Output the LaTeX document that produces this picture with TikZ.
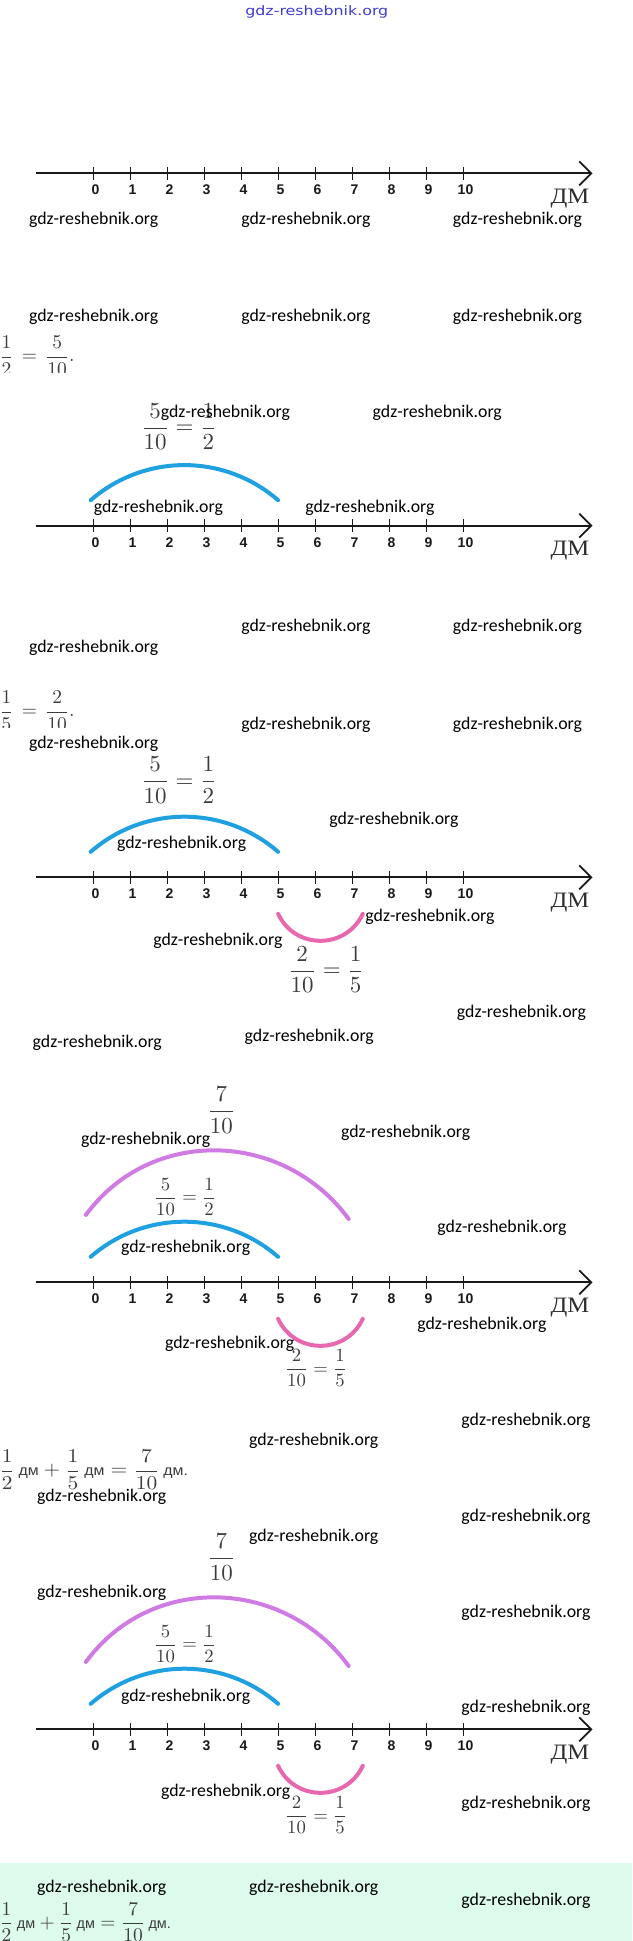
\documentclass[tikz,border=0pt]{standalone}
\usepackage{fontspec}
\usetikzlibrary{arrows.meta}
\newfontfamily\wmfont{Carlito}
\newfontfamily\lsans{Liberation Sans}
\newfontfamily\lserif{Liberation Serif}
\newfontfamily\dvsans{DejaVu Sans}
\definecolor{arcblue}{RGB}{30,160,225}
\definecolor{arcpink}{RGB}{232,104,176}
\definecolor{arcviolet}{RGB}{208,122,228}
\definecolor{eqgray}{RGB}{60,60,60}
\definecolor{mint}{RGB}{221,251,236}
\definecolor{wmblue}{RGB}{60,60,205}
\definecolor{axiscol}{RGB}{25,25,25}
\definecolor{dmcol}{RGB}{45,45,45}
\newcommand{\dmu}{\hbox{\lsans\fontsize{7.4}{9}\selectfont дм}}
\newcommand{\dmp}{\hbox{\lsans\fontsize{7.4}{9}\selectfont дм.}}
\newcommand{\numline}[2]{%
  \coordinate (#2-s) at (36.3,#1);
  \coordinate (#2-e) at (592.5,#1);
  \draw[axisline] (#2-s) -- (#2-e);
  \foreach \i in {0,...,10}{
    \coordinate (#2-t\i) at ({93.5+37*\i},#1);
    \draw[tickmark] ([yshift=-6.5pt]#2-t\i) -- ([yshift=6.5pt]#2-t\i);
    \node[digit] (#2-l\i) at ({95.5+37*\i},{#1+21.5}) {\i};
  }
  \node[dmlabel] (#2-dm) at (570,{#1+25}) {\scalebox{1.12}[1]{ДМ}};
}
\newcommand{\bluearc}[2]{%
  \coordinate (#2a) at (90.7,{#1-25.5});
  \coordinate (#2b) at (278.1,{#1-25.5});
  \draw[arcb] (#2a) .. controls (144.5,{#1-72.3}) and (224.3,{#1-72.3}) .. (#2b);
}
\newcommand{\pinkarc}[2]{%
  \coordinate (#2a) at (278.1,{#1+36.5});
  \coordinate (#2b) at (362.8,{#1+36.5});
  \draw[arcp] (#2a) .. controls (294.9,{#1+72.5}) and (346,{#1+72.5}) .. (#2b);
}
\newcommand{\violetarc}[2]{%
  \coordinate (#2a) at (85.9,{#1-67.4});
  \coordinate (#2b) at (348.7,{#1-63.3});
  \draw[arcv] (#2a) .. controls (150.9,{#1-156.2}) and (283.7,{#1-152.1}) .. (#2b);
}
\newcommand{\bigf}[1]{\scalebox{2.3}{$\displaystyle #1$}}
\newcommand{\smallf}[1]{\scalebox{1.87}{$\displaystyle #1$}}
\newcommand{\eqf}[1]{\scalebox{1.95}{$\displaystyle #1$}}
\begin{document}
\begin{tikzpicture}[x=1pt,y=-1pt,
  wm/.style={font=\wmfont\fontsize{17.8}{20}\selectfont, text=black, inner sep=0pt},
  axisline/.style={line width=1.8pt, draw=axiscol, -{Straight Barb[length=12pt,width=24pt]}},
  tickmark/.style={line width=1.8pt, draw=axiscol},
  digit/.style={font=\lsans\bfseries\fontsize{14}{16}\selectfont, text=axiscol, inner sep=0pt, anchor=base},
  dmlabel/.style={font=\lserif\fontsize{22}{24}\selectfont, text=dmcol, inner sep=0pt},
  arcb/.style={draw=arcblue, line width=4pt, line cap=round},
  arcp/.style={draw=arcpink, line width=4pt, line cap=round},
  arcv/.style={draw=arcviolet, line width=4pt, line cap=round},
  mathlbl/.style={text=eqgray, inner sep=0pt, anchor=base west}]
\useasboundingbox (0,0) rectangle (632,1941);
\fill[white] (0,0) rectangle (632,1941);
\fill[mint] (0,1863.3) rectangle (632,1941);

% top watermark
\node[font=\dvsans\fontsize{13}{15}\selectfont, text=wmblue, inner sep=0pt] (topwm) at (316.8,12) {\scalebox{1.22}[1]{gdz-reshebnik.org}};

% panel 1
\numline{173.3}{A}

% equation 1
\begin{scope}
  \clip (0,330) rectangle (120,372);
  \node[mathlbl] (eq1) at (-1,361.8) {\eqf{\frac{1}{2}\mskip2.5mu=\mskip2.5mu\frac{5}{10}.}};
\end{scope}

% panel 2
\node[mathlbl] (f2a) at (140.6,433.75) {\bigf{\frac{5}{10}=\frac{1}{2}}};
\bluearc{525.7}{B}
\numline{525.7}{B}

% equation 2
\begin{scope}
  \clip (0,680) rectangle (120,727);
  \node[mathlbl] (eq2) at (-1,716.8) {\eqf{\frac{1}{5}\mskip2.5mu=\mskip2.5mu\frac{2}{10}.}};
\end{scope}

% panel 3
\node[mathlbl] (f3a) at (140.6,787.5) {\bigf{\frac{5}{10}=\frac{1}{2}}};
\bluearc{877.3}{C}
\numline{877.3}{C}
\pinkarc{877.3}{C}
\node[mathlbl] (f3b) at (287.75,976.75) {\bigf{\frac{2}{10}=\frac{1}{5}}};

% panel 4
\node[mathlbl] (f4c) at (207,1117.5) {\bigf{\frac{7}{10}}};
\violetarc{1282.3}{Dv}
\node[mathlbl] (f4a) at (153.8,1202.7) {\smallf{\frac{5}{10}=\frac{1}{2}}};
\bluearc{1282.3}{D}
\numline{1282.3}{D}
\pinkarc{1282.3}{D}
\node[mathlbl] (f4b) at (284.8,1374) {\smallf{\frac{2}{10}=\frac{1}{5}}};

% equation 3
\begin{scope}
  \clip (0,1440) rectangle (220,1489);
  \node[mathlbl] (eq3) at (-1,1475.8) {\scalebox{2.145}[1.95]{$\displaystyle\frac{1}{2}\,\dmu+\frac{1}{5}\,\dmu=\frac{7}{10}\,\dmp$}};
\end{scope}

% panel 5
\node[mathlbl] (f5c) at (207,1564.5) {\bigf{\frac{7}{10}}};
\violetarc{1729.3}{Ev}
\node[mathlbl] (f5a) at (153.8,1649.7) {\smallf{\frac{5}{10}=\frac{1}{2}}};
\bluearc{1729.3}{E}
\numline{1729.3}{E}
\pinkarc{1729.3}{E}
\node[mathlbl] (f5b) at (284.8,1821) {\smallf{\frac{2}{10}=\frac{1}{5}}};

% final equation
\node[mathlbl] (eq4) at (-1,1928.5) {\eqf{\frac{1}{2}\,\dmu+\frac{1}{5}\,\dmu=\frac{7}{10}\,\dmp}};

% watermarks
\foreach \n/\x/\y in {
  w1/93.7/220, w2/306/220, w3/517.5/220,
  w4/93.7/316.7, w5/306/316.7, w6/517.5/316.7,
  w7/225.5/412.7, w8/437.3/412.7,
  w9/158.4/508, w10/370/508,
  w11/306/627, w12/517.5/627,
  w13/93.7/648.3,
  w14/306/725, w15/517.5/725,
  w16/93.7/744,
  w17/394/820, w18/181.6/844,
  w19/430/916.7, w20/217.9/940.7,
  w21/521.5/1013, w22/309.3/1036.7, w23/97.3/1043,
  w24/145.7/1140, w25/405.7/1132.7,
  w26/502/1228, w27/185.6/1248,
  w28/481.9/1325, w29/229.7/1344,
  w30/526/1420.7, w31/313.8/1440.7,
  w32/101.8/1496.7, w33/526/1516.7, w34/313.8/1536.7,
  w35/101.8/1592.7, w36/526/1612.7,
  w37/185.6/1696.7, w38/526/1708.3,
  w39/225.7/1792.3, w40/526/1804.3,
  w41/101.8/1888.3, w42/313.8/1888.3, w43/526/1900.7}
  \node[wm] (\n) at (\x,\y) {gdz-reshebnik.org};
\end{tikzpicture}
\end{document}
